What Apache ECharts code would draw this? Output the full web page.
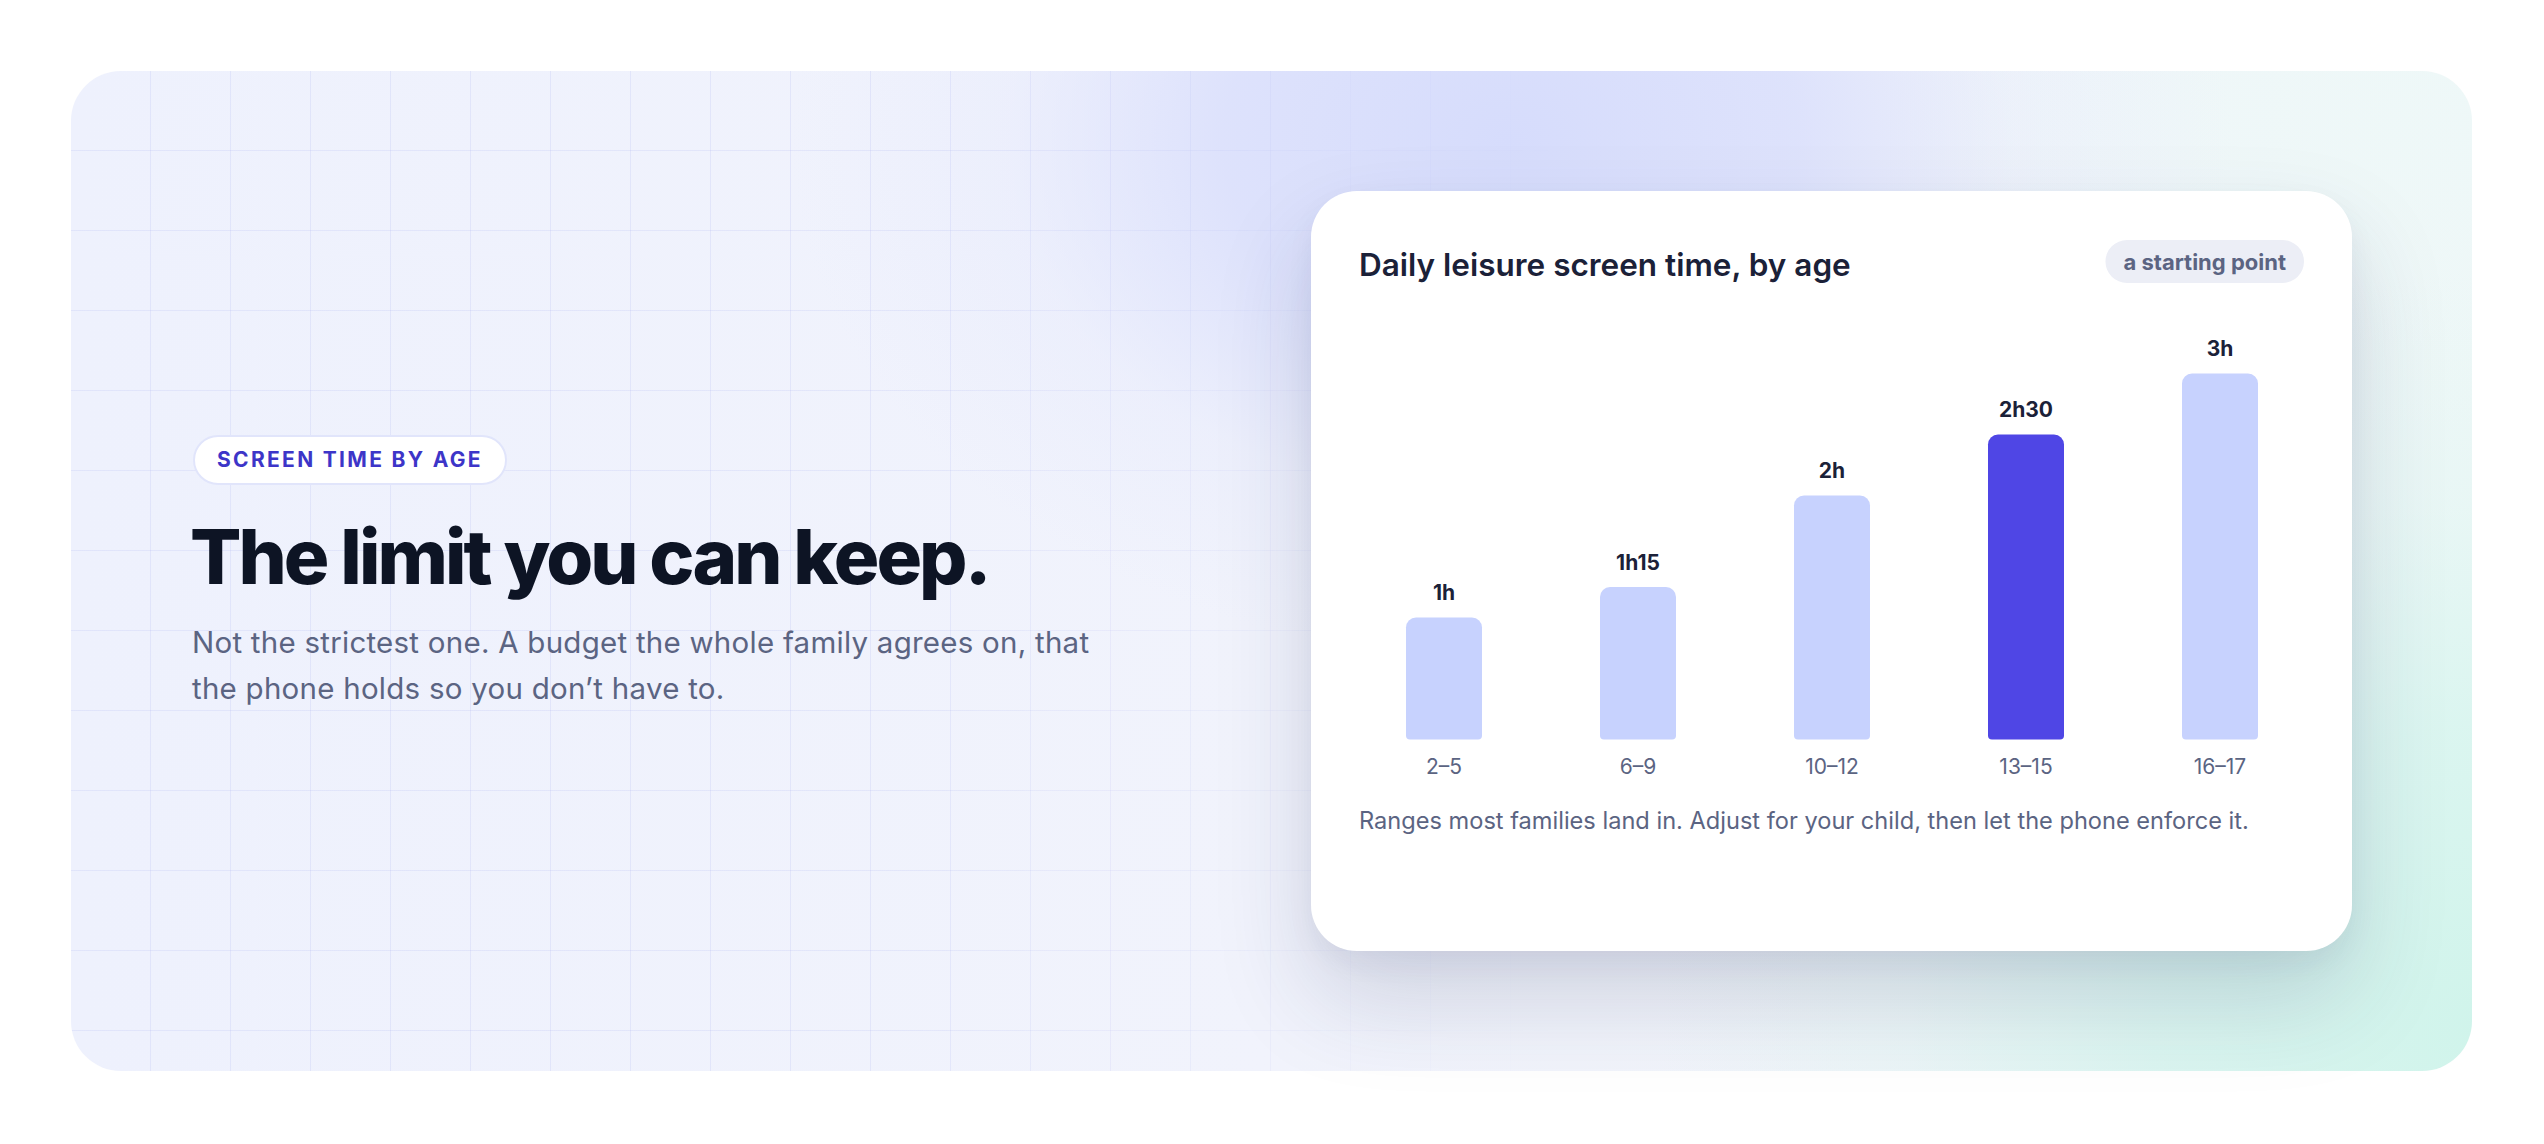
<!DOCTYPE html>
<html>
<head>
<meta charset="utf-8">
<script src="https://cdn.jsdelivr.net/npm/echarts@6/dist/echarts.min.js"></script>
<style>
  html, body { margin: 0; padding: 0; background: #ffffff; }
  body { width: 2544px; height: 1144px; position: relative; overflow: hidden; font-family: Inter, "Noto Sans", sans-serif; }
  #panel {
    position: absolute; left: 71px; top: 71px; width: 2401px; height: 1000px;
    border-radius: 50px; overflow: hidden;
    background:
      radial-gradient(ellipse 720px 520px at 1440px 70px, rgba(214,220,252,1) 0%, rgba(218,223,252,0.85) 40%, rgba(228,232,252,0.35) 70%, rgba(236,239,252,0) 100%),
      radial-gradient(ellipse 820px 760px at 2410px 960px, rgba(208,244,235,1) 0%, rgba(214,245,238,0.8) 40%, rgba(222,246,241,0.35) 70%, rgba(225,246,242,0) 100%),
      radial-gradient(ellipse 500px 320px at 2330px 60px, rgba(238,248,248,0.9) 0%, rgba(238,248,248,0) 100%),
      linear-gradient(90deg, #eef1fd 0%, #f1f3fc 50%, #f2f5fa 75%, #eef7f7 100%);
  }
  #gridlines {
    position: absolute; left: 0; top: 0; width: 100%; height: 100%;
    background-image:
      linear-gradient(to right, rgba(110,120,230,0.10) 1.5px, transparent 1.5px),
      linear-gradient(to bottom, rgba(110,120,230,0.10) 1.5px, transparent 1.5px);
    background-size: 80px 80px;
    background-position: -1px -1px;
    -webkit-mask-image: linear-gradient(to right, #000 0%, #000 35%, rgba(0,0,0,0) 62%);
    mask-image: linear-gradient(to right, #000 0%, #000 35%, rgba(0,0,0,0) 62%);
  }
  #pill {
    position: absolute; left: 193px; top: 435px; height: 46px; padding: 0 22px;
    box-sizing: content-box;
    border: 2px solid #e1e5fb; border-radius: 26px; background: #ffffff;
    color: #3d35c8; font-weight: 700; font-size: 21px; letter-spacing: 0.11em;
    line-height: 46px; white-space: nowrap;
  }
  #headline {
    position: absolute; left: 190px; top: 518px; margin: 0;
    font-size: 76px; line-height: 76px; font-weight: 800; letter-spacing: -0.0385em;
    color: #0d1424; white-space: nowrap;
  }
  #lede {
    position: absolute; left: 192px; top: 619px; margin: 0;
    font-size: 29.5px; line-height: 46px; font-weight: 400; color: #5b6482;
    white-space: nowrap; letter-spacing: 0.25px;
  }
  #card {
    position: absolute; left: 1311px; top: 191px; width: 1041px; height: 760px;
    border-radius: 46px; background: #ffffff;
    box-shadow: 0 48px 96px rgba(36, 48, 92, 0.17), 0 12px 28px rgba(36, 48, 92, 0.05);
  }
  #chart { position: absolute; left: 0; top: 0; width: 1041px; height: 760px; }
</style>
</head>
<body>
<div id="panel"><div id="gridlines"></div></div>
<div id="pill">SCREEN TIME BY AGE</div>
<h1 id="headline">The limit you can keep.</h1>
<p id="lede">Not the strictest one. A budget the whole family agrees on, that<br>the phone holds so you don’t have to.</p>
<div id="card"><div id="chart"></div></div>
<script>
// ---- data ----
const chartTitle = 'Daily leisure screen time, by age';
const badgeText = 'a starting point';
const footnote = 'Ranges most families land in. Adjust for your child, then let the phone enforce it.';
const ageGroups = ['2–5', '6–9', '10–12', '13–15', '16–17'];
const hoursPerDay = [1, 1.25, 2, 2.5, 3];
const valueLabels = ['1h', '1h15', '2h', '2h30', '3h'];
const highlightIndex = 3;

// ---- styles ----
const barLight = '#c7d2fe';
const barStrong = '#4f46e5';
const inkDark = '#1b2138';
const inkMuted = '#5b6482';

const chart = echarts.init(document.getElementById('chart'), null, { renderer: 'svg' });

chart.setOption({
  animation: false,
  textStyle: { fontFamily: 'Inter, "Noto Sans", sans-serif' },
  title: [
    {
      text: chartTitle, left: 48, top: 57, padding: 0,
      textStyle: { fontSize: 31.5, fontWeight: 600, color: inkDark, fontFamily: 'Inter, sans-serif' }
    },
    {
      text: badgeText, right: 48, top: 49,
      backgroundColor: '#eceef6', borderRadius: 22, padding: [10.5, 18, 10.5, 18],
      textStyle: { fontSize: 22, fontWeight: 700, color: inkMuted, fontFamily: 'Inter, sans-serif' }
    },
    {
      text: footnote, left: 48, top: 617, padding: 0,
      textStyle: { fontSize: 23.6, fontWeight: 400, color: inkMuted, fontFamily: 'Inter, sans-serif' }
    }
  ],
  grid: { left: 36, right: 35, top: 182.5, height: 366, containLabel: false },
  xAxis: {
    type: 'category',
    data: ageGroups,
    axisLine: { show: false },
    axisTick: { show: false },
    axisLabel: { color: inkMuted, fontSize: 21, margin: 16 }
  },
  yAxis: {
    type: 'value', min: 0, max: 3,
    show: false,
    splitLine: { show: false }
  },
  series: [{
    type: 'bar',
    barWidth: 76,
    data: hoursPerDay.map((v, i) => ({
      value: v,
      itemStyle: { color: i === highlightIndex ? barStrong : barLight }
    })),
    itemStyle: { borderRadius: [10, 10, 4, 4] },
    label: {
      show: true, position: 'top', distance: 14.5,
      formatter: (p) => valueLabels[p.dataIndex],
      fontSize: 21, fontWeight: 700, color: inkDark
    }
  }]
});
</script>
</body>
</html>
